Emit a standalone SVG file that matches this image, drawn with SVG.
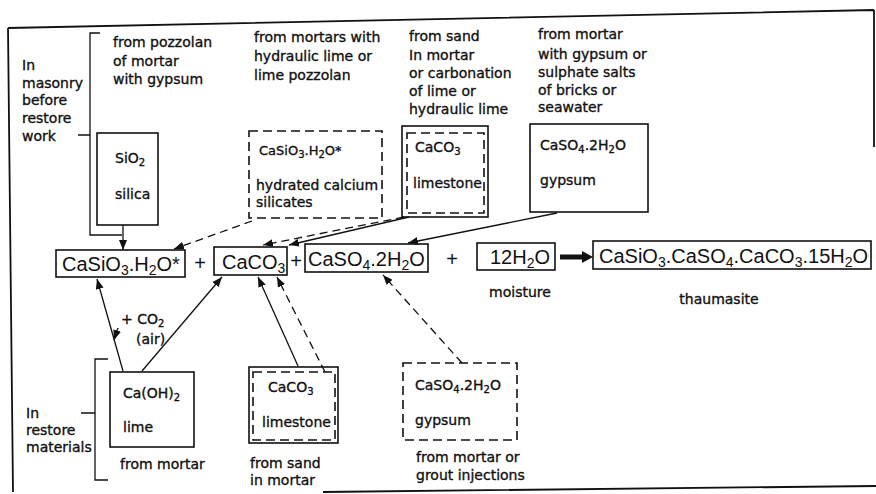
<svg xmlns="http://www.w3.org/2000/svg" width="876" height="494" viewBox="0 0 876 494">
<defs>
<style>
.t{font-family:"DejaVu Sans","Liberation Sans",sans-serif;font-size:14px;fill:#111;stroke:#111;stroke-width:0.35}
.f{font-family:"Liberation Sans",Arial,sans-serif;font-size:20px;fill:#111}
.s{font-size:10px}
.fs{font-size:14px}
.box{fill:none;stroke:#111;stroke-width:1.6}
.dbox{fill:none;stroke:#111;stroke-width:1.6;stroke-dasharray:9 5}
.ln{fill:none;stroke:#111;stroke-width:1.3}
.dl{fill:none;stroke:#111;stroke-width:1.3;stroke-dasharray:8 5}
.frame{fill:none;stroke:#111;stroke-width:1.8}
</style>
<marker id="ah" viewBox="0 0 10 8" refX="10" refY="4" markerWidth="10" markerHeight="8" markerUnits="userSpaceOnUse" orient="auto">
<path d="M0,0 L10,4 L0,8 Z" fill="#111"/>
</marker>
</defs>
<rect width="876" height="494" fill="#fff"/>

<g id="frame">
<path class="frame" d="M8,28 L874,10 M874,10 L874,147 M8,28 L13,492 M323,492 L876,486"/>
</g>

<g id="label-masonry">
<path class="ln" d="M100,33 H90 V235 H122 M78,135 H90"/>
<text class="t" x="22" y="70">In</text>
<text class="t" x="22" y="88">masonry</text>
<text class="t" x="22" y="105">before</text>
<text class="t" x="22" y="123">restore</text>
<text class="t" x="22" y="141">work</text>
</g>

<g id="label-restore">
<path class="ln" d="M108,359 H95 V480 H108 M81,413 H95"/>
<text class="t" x="26" y="418">In</text>
<text class="t" x="26" y="435">restore</text>
<text class="t" x="26" y="452">materials</text>
</g>

<g id="src-silica">
<text class="t" x="113" y="47">from pozzolan</text>
<text class="t" x="113" y="66">of mortar</text>
<text class="t" x="113" y="84">with gypsum</text>
<rect class="box" x="97" y="133" width="61" height="92"/>
<text class="t" x="115" y="163">SiO<tspan class="s" dy="3">2</tspan></text>
<text class="t" x="115" y="199">silica</text>
</g>

<g id="src-hydrated">
<text class="t" x="254" y="42">from mortars with</text>
<text class="t" x="254" y="61">hydraulic lime or</text>
<text class="t" x="254" y="80">lime pozzolan</text>
<rect class="dbox" x="249" y="131" width="133" height="87"/>
<text class="t" x="259" y="155" style="font-size:13px">CaSiO<tspan class="s" dy="3">3</tspan><tspan dy="-3">.H</tspan><tspan class="s" dy="3">2</tspan><tspan dy="-3">O*</tspan></text>
<text class="t" x="256" y="190">hydrated calcium</text>
<text class="t" x="256" y="207">silicates</text>
</g>

<g id="src-limestone-top">
<text class="t" x="409" y="41">from sand</text>
<text class="t" x="409" y="60">In mortar</text>
<text class="t" x="409" y="78">or carbonation</text>
<text class="t" x="409" y="96">of lime or</text>
<text class="t" x="409" y="114">hydraulic lime</text>
<rect class="box" x="402" y="126" width="86" height="91"/>
<rect class="dbox" x="407" y="133" width="77" height="80"/>
<text class="t" x="415" y="152">CaCO<tspan class="s" dy="3">3</tspan></text>
<text class="t" x="413" y="188">limestone</text>
</g>

<g id="src-gypsum-top">
<text class="t" x="538" y="39">from mortar</text>
<text class="t" x="538" y="59">with gypsum or</text>
<text class="t" x="538" y="77">sulphate salts</text>
<text class="t" x="538" y="95">of bricks or</text>
<text class="t" x="538" y="112">seawater</text>
<rect class="box" x="530" y="124" width="118" height="88"/>
<text class="t" x="540" y="150">CaSO<tspan class="s" dy="3">4</tspan><tspan dy="-3">.2H</tspan><tspan class="s" dy="3">2</tspan><tspan dy="-3">O</tspan></text>
<text class="t" x="540" y="185">gypsum</text>
</g>

<g id="eq-casio3">
<rect class="box" x="56" y="250" width="129" height="27"/>
<text class="f" x="62" y="271">CaSiO<tspan class="fs" dy="4">3</tspan><tspan dy="-4">.H</tspan><tspan class="fs" dy="4">2</tspan><tspan dy="-4">O*</tspan></text>
</g>
<text class="f" x="200" y="270" text-anchor="middle">+</text>
<g id="eq-caco3">
<rect class="box" x="214" y="247" width="73" height="28"/>
<text class="f" x="222" y="269">CaCO<tspan class="fs" dy="4">3</tspan></text>
</g>
<text class="f" x="296" y="268" text-anchor="middle">+</text>
<g id="eq-caso4">
<rect class="box" x="305" y="244" width="123" height="28"/>
<text class="f" x="308" y="266">CaSO<tspan class="fs" dy="4">4</tspan><tspan dy="-4">.2H</tspan><tspan class="fs" dy="4">2</tspan><tspan dy="-4">O</tspan></text>
</g>
<text class="f" x="452" y="266" text-anchor="middle">+</text>
<g id="eq-water">
<rect class="box" x="477" y="243" width="78" height="27"/>
<text class="f" x="490" y="264">12H<tspan class="fs" dy="4">2</tspan><tspan dy="-4">O</tspan></text>
<text class="t" x="520" y="297" text-anchor="middle">moisture</text>
</g>
<g id="eq-thaumasite">
<rect class="box" x="593" y="241" width="278" height="28"/>
<text class="f" x="599" y="263">CaSiO<tspan class="fs" dy="4">3</tspan><tspan dy="-4">.CaSO</tspan><tspan class="fs" dy="4">4</tspan><tspan dy="-4">.CaCO</tspan><tspan class="fs" dy="4">3</tspan><tspan dy="-4">.15H</tspan><tspan class="fs" dy="4">2</tspan><tspan dy="-4">O</tspan></text>
<text class="t" x="719" y="304" text-anchor="middle">thaumasite</text>
</g>

<g id="src-lime">
<rect class="box" x="110" y="372" width="84" height="75"/>
<text class="t" x="123" y="398">Ca(OH)<tspan class="s" dy="3">2</tspan></text>
<text class="t" x="123" y="432">lime</text>
<text class="t" x="120" y="469">from mortar</text>
<text class="t" x="121" y="324">+ CO<tspan class="s" dy="3">2</tspan></text>
<text class="t" x="136" y="344">(air)</text>
</g>

<g id="src-limestone-bottom">
<rect class="box" x="249" y="367" width="89" height="76"/>
<rect class="dbox" x="253" y="372" width="82" height="68"/>
<text class="t" x="268" y="392">CaCO<tspan class="s" dy="3">3</tspan></text>
<text class="t" x="262" y="427">limestone</text>
<text class="t" x="250" y="468">from sand</text>
<text class="t" x="250" y="485">in mortar</text>
</g>

<g id="src-gypsum-bottom">
<rect class="dbox" x="403" y="363" width="114" height="77"/>
<text class="t" x="415" y="390">CaSO<tspan class="s" dy="3">4</tspan><tspan dy="-3">.2H</tspan><tspan class="s" dy="3">2</tspan><tspan dy="-3">O</tspan></text>
<text class="t" x="415" y="425">gypsum</text>
<text class="t" x="416" y="462">from mortar or</text>
<text class="t" x="416" y="480">grout injections</text>
</g>

<g id="connectors">
<line class="ln" x1="123" y1="225" x2="123" y2="250" marker-end="url(#ah)"/>
<line class="dl" x1="252" y1="221" x2="174" y2="249" marker-end="url(#ah)"/>
<line class="dl" x1="404" y1="217" x2="263" y2="245" marker-end="url(#ah)"/>
<line class="ln" x1="409" y1="217" x2="289" y2="245" marker-end="url(#ah)"/>
<line class="ln" x1="557" y1="213" x2="408" y2="243" marker-end="url(#ah)"/>
<line class="ln" x1="123" y1="371" x2="97" y2="279" marker-end="url(#ah)"/>
<line class="ln" x1="118" y1="328" x2="114" y2="340" marker-end="url(#ah)"/>
<line class="ln" x1="142" y1="371" x2="222" y2="277" marker-end="url(#ah)"/>
<line class="ln" x1="298" y1="366" x2="258" y2="277" marker-end="url(#ah)"/>
<line class="dl" x1="325" y1="372" x2="277" y2="277" marker-end="url(#ah)"/>
<line class="dl" x1="462" y1="363" x2="383" y2="275" marker-end="url(#ah)"/>
<line x1="560" y1="257" x2="584" y2="257" stroke="#111" stroke-width="5"/>
<path d="M582,251 L593,257 L582,263 Z" fill="#111"/>
</g>
</svg>
